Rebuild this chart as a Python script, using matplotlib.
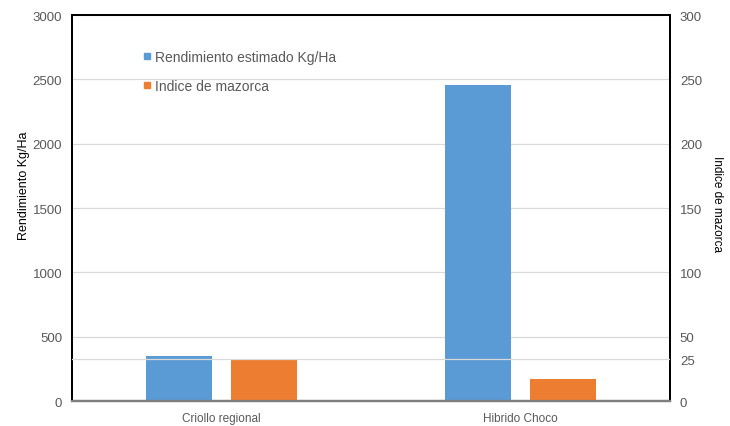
import numpy as np
import matplotlib.pyplot as plt
from matplotlib.lines import Line2D

plt.rcParams['font.family'] = ['Liberation Sans', 'DejaVu Sans']

# datos
variedades = ['Criollo regional', 'Hibrido Choco']
rendimiento = [350, 2455]        # Kg/Ha (eje izquierdo)
indice = [32.5, 17]              # indice de mazorca (eje derecho)
ticks_izq = [0, 500, 1000, 1500, 2000, 2500, 3000]
ticks_der = [0, 32.5, 50, 100, 150, 200, 250, 300]
etiq_der = ['0', '25', '50', '100', '150', '200', '250', '300']

azul = '#5b9bd5'
naranja = '#ed7d31'
gris = '#595959'

fig = plt.figure(figsize=(7.3, 4.27), dpi=100)
ax = fig.add_axes([0.0986, 0.0585, 0.8194, 0.904])
ax2 = ax.twinx()

x = np.arange(len(variedades))
w = 0.22
ax.bar(x - 0.143, rendimiento, w, color=azul, zorder=2)
ax2.bar(x + 0.143, indice, w, color=naranja, zorder=2)

ax.set_xlim(-0.5, 1.5)
ax.set_ylim(0, 3000)
ax2.set_ylim(0, 300)
ax.set_yticks(ticks_izq)
ax2.set_yticks(ticks_der)
ax2.set_yticklabels(etiq_der)
ax.set_xticks(x)
ax.set_xticklabels(variedades)

ax.grid(axis='y', color='#d9d9d9', lw=0.9, zorder=0)
ax.set_axisbelow(True)
# linea extra de referencia (25) dibujada sobre las barras
ax2.axhline(32.5, color='#d9d9d9', lw=0.9, zorder=3)

for a in (ax, ax2):
    a.tick_params(length=0, labelsize=9.5, labelcolor=gris)
    for s in ('left', 'top', 'right'):
        a.spines[s].set_color('black')
        a.spines[s].set_linewidth(1.4)
    a.spines['bottom'].set_color('#7f7f7f')
    a.spines['bottom'].set_linewidth(1.6)
ax.tick_params(axis='x', pad=8, labelsize=8.5)
ax.tick_params(axis='y', pad=7)
ax2.tick_params(axis='y', pad=7)

ax.set_ylabel('Rendimiento Kg/Ha', fontsize=9, color='black', labelpad=2)
ax2.set_ylabel('Indice de mazorca', fontsize=8.5, color='black', rotation=270,
               labelpad=15)
ax.yaxis.label.set_y(0.56)
ax2.yaxis.label.set_y(0.513)

handles = [Line2D([], [], ls='', marker='s', ms=5, color=azul),
           Line2D([], [], ls='', marker='s', ms=5, color=naranja)]
ax2.legend(handles, ['Rendimiento estimado Kg/Ha', 'Indice de mazorca'],
           loc='upper left', bbox_to_anchor=(0.097, 0.942), frameon=False,
           fontsize=10, labelcolor=gris, handlelength=0.6, handletextpad=0.3,
           labelspacing=1.1)

fig.savefig('out.png', dpi=100)
